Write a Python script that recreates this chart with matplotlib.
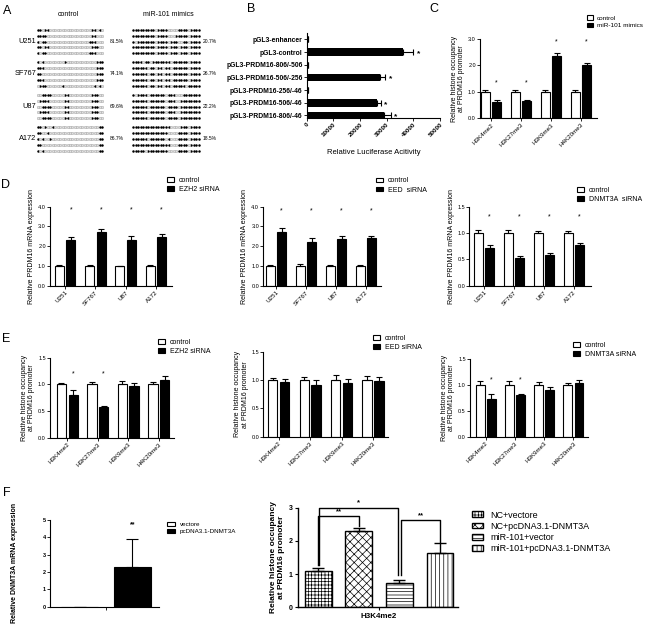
import matplotlib.pyplot as plt
import numpy as np

plt.rcParams["font.family"] = ["Liberation Sans", "DejaVu Sans"]
plt.rcParams["hatch.linewidth"] = 0.5

# ─────────────────────────────────────────────
# Data
# ─────────────────────────────────────────────

# A: bisulfite sequencing clones (1 = methylated CpG)
cell_lines = ["U251", "SF767", "U87", "A172"]
ctrl_pct = ["81.5%", "74.1%", "69.6%", "86.7%"]
mimic_pct = ["20.7%", "26.7%", "22.2%", "18.5%"]
ctrl_clones = [
    "110110000000000000000011010", "111100000000000000000011000",
    "101100000000000000000111000", "110110000000000000000011100",
    "101100000000000000000111000",
    "101000000001000000000000111", "111000000000000000000000111",
    "110000000000000000000000111", "111000000000000000000000111",
    "011100000010000000000001010",
    "001111000001100000000011100", "011110000001100000000011100",
    "001111000001100000000011100", "011110000001100000000011100",
    "001111000001100000000011100",
    "110100100000000000000000011", "110010000000000000000000011",
    "101001000000000000000000011", "110000000000000000000000011",
    "101000000000000000000000011",
]
mimic_clones = [
    "111111111011110000111101111", "111111111011110001111101111",
    "101111111011110111001101111", "111111111011110111011101111",
    "111111111011110111011101111",
    "111101101111111011111101111", "111111011011011011111101111",
    "111111011011011011111101111", "111111011011011011111101111",
    "111111011011011011111011111",
    "101111011111101110001111111", "111111011111101110011111111",
    "111111011111101111011111111", "111111011111101110011111111",
    "111111011111101111011111111",
    "111111111111111000011101111", "111111111111110000111101111",
    "111111011111101000111101111", "111111111111111000111101111",
    "111110111111110000111101111",
]

# B: luciferase reporter
constructs = ["pGL3-enhancer", "pGL3-control", "pGL3-PRDM16-806/-506",
              "pGL3-PRDM16-506/-256", "pGL3-PRDM16-256/-46",
              "pGL3-PRDM16-506/-46", "pGL3-PRDM16-806/-46"]
luc_mean = [500, 36000, 500, 27500, 500, 26500, 29000]
luc_err = [150, 4000, 150, 2000, 150, 1300, 2500]
luc_sig = [False, True, False, True, False, True, True]

# C: ChIP, miR-101 mimics
marks = ["H3K4me2", "H3K27me3", "H3K9me3", "H4K20me3"]
c_ctrl = [1.0, 1.0, 1.0, 1.0]
c_ctrl_err = [0.07, 0.05, 0.07, 0.07]
c_mimic = [0.6, 0.65, 2.37, 2.03]
c_mimic_err = [0.07, 0.03, 0.09, 0.05]
c_star = [1.33, 1.33, 2.89, 2.89]

# D: PRDM16 mRNA after siRNA
d_ctrl = [1.0, 1.0, 1.0, 1.0]
d_ezh2_ctrl_err = [0.03, 0.05, 0.02, 0.03]
d_ezh2 = [2.3, 2.73, 2.33, 2.47]
d_ezh2_err = [0.16, 0.13, 0.18, 0.14]
d_ezh2_star = [3.83, 3.83, 3.83, 3.83]
d_eed_ctrl_err = [0.03, 0.08, 0.03, 0.04]
d_eed = [2.73, 2.2, 2.35, 2.4]
d_eed_err = [0.2, 0.2, 0.17, 0.13]
d_eed_star = [3.78, 3.78, 3.78, 3.78]
d_dnmt_ctrl_err = [0.06, 0.05, 0.04, 0.04]
d_dnmt = [0.71, 0.52, 0.59, 0.78]
d_dnmt_err = [0.06, 0.05, 0.04, 0.03]
d_dnmt_star = [1.3, 1.3, 1.3, 1.3]

# E: ChIP after siRNA
e_ctrl = [1.0, 1.0, 1.0, 1.0]
e_ezh2_ctrl_err = [0.02, 0.04, 0.07, 0.05]
e_ezh2 = [0.8, 0.57, 0.97, 1.08]
e_ezh2_err = [0.09, 0.02, 0.06, 0.08]
e_ezh2_star = [1.19, 1.19, None, None]
e_eed_ctrl_err = [0.03, 0.05, 0.08, 0.07]
e_eed = [0.96, 0.91, 0.94, 0.99]
e_eed_err = [0.05, 0.09, 0.08, 0.06]
e_dnmt_ctrl_err = [0.07, 0.07, 0.05, 0.03]
e_dnmt = [0.72, 0.8, 0.9, 1.03]
e_dnmt_err = [0.11, 0.03, 0.06, 0.06]
e_dnmt_star = [1.1, 1.1, None, None]

# F: DNMT3A rescue
f1_groups = ["vectore", "pcDNA3.1-DNMT3A"]
f1_mean = [0.0, 2.28]
f1_err = [0.0, 1.6]
f2_groups = ["NC+vectore", "NC+pcDNA3.1-DNMT3A", "miR-101+vector",
             "miR-101+pcDNA3.1-DNMT3A"]
f2_mean = [1.1, 2.3, 0.72, 1.63]
f2_err = [0.08, 0.08, 0.1, 0.3]
f2_hatch = ["+++++", "xxxx", "-----", "||||"]

# ─────────────────────────────────────────────
# Layout helpers (pixel coordinates)
# ─────────────────────────────────────────────

W, H = 647, 630
fig = plt.figure(figsize=(W / 100, H / 100), dpi=100)


def px_axes(left, top, right, bottom):
    return fig.add_axes([left / W, 1 - bottom / H, (right - left) / W, (bottom - top) / H])


def fig_text(x, y, s, **kw):
    fig.text(x / W, 1 - y / H, s, **kw)


def prism(ax, ymax, yticks, fmt, ylabel, labelpad=2, ylfs=5):
    ax.spines[["top", "right"]].set_visible(False)
    ax.spines[["left", "bottom"]].set_linewidth(0.8)
    ax.set_ylim(0, ymax)
    ax.set_yticks(yticks)
    ax.set_yticklabels([fmt.format(t) for t in yticks], fontsize=4)
    ax.tick_params(length=2, width=0.6, pad=1)
    ax.set_ylabel(ylabel, fontsize=ylfs, labelpad=labelpad, linespacing=1.1)


def paired(ax, ctrl, ctrl_err, trt, trt_err, labels, xlim, off=0.19, w=0.3):
    x = np.arange(len(ctrl))
    ekw = dict(lw=0.8, capsize=2, capthick=0.8, ecolor="black")
    zeros = np.zeros(len(ctrl))
    b0 = ax.bar(x - off, ctrl, w, color="white", edgecolor="black", lw=0.8,
                yerr=[zeros, ctrl_err], error_kw=ekw)
    b1 = ax.bar(x + off, trt, w, color="black", edgecolor="black", lw=0.8,
                yerr=[zeros, trt_err], error_kw=ekw)
    ax.set_xlim(*xlim)
    ax.set_xticks(x)
    ax.set_xticklabels(labels, rotation=45, ha="right", rotation_mode="anchor", fontsize=4.5)
    return b0, b1


def stars(ax, heights, off=0.19):
    for i, h in enumerate(heights):
        if h is not None:
            ax.text(i + off, h, "*", ha="center", va="center", fontsize=5)


def legend_at(ax, handles, labels, x, y, fs=5, hl=1.0, hh=0.6, sp=0.3, pad=0.7):
    ax.legend(handles, labels, loc="upper left", bbox_to_anchor=(x / W, 1 - y / H),
              bbox_transform=fig.transFigure, frameon=False, fontsize=fs,
              handlelength=hl, handleheight=hh, labelspacing=sp, handletextpad=pad,
              borderpad=0, borderaxespad=0)


# ─────────────────────────────────────────────
# A — methylation clones
# ─────────────────────────────────────────────

BLOCK = 5.57


def draw_clones(ax, clones):
    for i, row in enumerate(clones):
        block, r = divmod(i, 5)
        bits = np.array([c == "1" for c in row])
        cols = np.arange(len(row))
        y = np.full(len(row), block * BLOCK + r)
        ax.scatter(cols[bits], y[bits], s=3.2, c="black", lw=0)
        ax.scatter(cols[~bits], y[~bits], s=3.2, facecolor="#e2e2e2",
                   edgecolor="#8a8a8a", lw=0.25)
    ax.set_xlim(-0.5, len(clones[0]) - 0.5)
    ax.set_ylim(3 * BLOCK + 4.5, -0.5)
    ax.axis("off")


draw_clones(px_axes(36.8, 27.1, 103.2, 153.5), ctrl_clones)
draw_clones(px_axes(131.7, 27.1, 200.3, 153.5), mimic_clones)

fig_text(68.8, 14, "control", ha="center", va="center", fontsize=5)
fig_text(168.3, 14, "miR-101 mimics", ha="center", va="center", fontsize=5)
for k, (name, pc, pm) in enumerate(zip(cell_lines, ctrl_pct, mimic_pct)):
    yc = 41.5 + k * 32.3
    fig_text(36, yc, name, ha="right", va="center", fontsize=5.3)
    fig_text(109.5, yc, pc, ha="left", va="center", fontsize=3.6)
    fig_text(202.5, yc, pm, ha="left", va="center", fontsize=3.6)

# ─────────────────────────────────────────────
# B — luciferase
# ─────────────────────────────────────────────

axB = px_axes(306.7, 33, 440, 118)
yB = np.arange(len(constructs))
axB.barh(yB, luc_mean, 0.6, color="black",
         xerr=[np.zeros(len(yB)), luc_err],
         error_kw=dict(lw=0.8, capsize=2, capthick=0.8, ecolor="black"))
for i, (m, e, s) in enumerate(zip(luc_mean, luc_err, luc_sig)):
    if s:
        axB.text(m + e + 1300, i + 0.12, "*", ha="left", va="center",
                 fontsize=6, fontweight="bold")
axB.set_xlim(0, 50000)
axB.set_ylim(6.2, -0.5)
axB.set_yticks(yB)
axB.set_yticklabels(constructs, fontsize=4.9, fontweight="bold")
axB.set_xticks(np.arange(0, 50001, 10000))
axB.set_xticklabels([str(v) for v in range(0, 50001, 10000)], rotation=45,
                    ha="right", rotation_mode="anchor", fontsize=4.5, fontweight="bold")
axB.spines[["top", "right"]].set_visible(False)
axB.spines[["left", "bottom"]].set_linewidth(0.8)
axB.tick_params(length=2, width=0.6, pad=1)
axB.set_xlabel("Relative Luciferase Acitivity", fontsize=5.5, labelpad=8)

# ─────────────────────────────────────────────
# C — histone occupancy, miR-101 mimics
# ─────────────────────────────────────────────

HIST_LABEL = "Relative histone occupancy\nat PRDM16 promoter"

axC = px_axes(480, 39, 597, 118)
cb = paired(axC, c_ctrl, c_ctrl_err, c_mimic, c_mimic_err, marks, (-0.36, 3.54))
prism(axC, 3.0, [0, 1, 2, 3], "{:.1f}", HIST_LABEL)
stars(axC, c_star)
legend_at(axC, cb, ["control", "miR-101 mimics"], 587, 15.5, fs=4.6, pad=0.6)

# ─────────────────────────────────────────────
# D — PRDM16 mRNA
# ─────────────────────────────────────────────

MRNA_LABEL = "Relative PRDM16 mRNA expression"

axD1 = px_axes(50, 206.7, 171.7, 285.7)
db = paired(axD1, d_ctrl, d_ezh2_ctrl_err, d_ezh2, d_ezh2_err, cell_lines, (-0.495, 3.52))
prism(axD1, 4.0, [0, 1, 2, 3, 4], "{:.1f}", MRNA_LABEL)
stars(axD1, d_ezh2_star)
legend_at(axD1, db, ["control", "EZH2 siRNA"], 167, 177)

axD2 = px_axes(263.3, 206.7, 380.7, 285.7)
db = paired(axD2, d_ctrl, d_eed_ctrl_err, d_eed, d_eed_err, cell_lines, (-0.425, 3.5))
prism(axD2, 4.0, [0, 1, 2, 3, 4], "{:.1f}", MRNA_LABEL)
stars(axD2, d_eed_star)
legend_at(axD2, db, ["control", "EED  siRNA"], 375.7, 177.5)

axD3 = px_axes(469.3, 206.7, 591, 285.7)
db = paired(axD3, d_ctrl, d_dnmt_ctrl_err, d_dnmt, d_dnmt_err, cell_lines, (-0.49, 3.57))
prism(axD3, 1.5, [0, 0.5, 1.0, 1.5], "{:.1f}", MRNA_LABEL)
stars(axD3, d_dnmt_star)
legend_at(axD3, db, ["control", "DNMT3A  siRNA"], 576.7, 187)

# ─────────────────────────────────────────────
# E — histone occupancy after siRNA
# ─────────────────────────────────────────────

axE1 = px_axes(50, 357.7, 174, 437.7)
eb = paired(axE1, e_ctrl, e_ezh2_ctrl_err, e_ezh2, e_ezh2_err, marks, (-0.567, 3.5))
prism(axE1, 1.5, [0, 0.5, 1.0, 1.5], "{:.1f}", HIST_LABEL)
stars(axE1, e_ezh2_star)
legend_at(axE1, eb, ["control", "EZH2 siRNA"], 158, 339)

axE2 = px_axes(263.3, 351.7, 388, 436.7)
eb = paired(axE2, e_ctrl, e_eed_ctrl_err, e_eed, e_eed_err, marks, (-0.49, 3.47))
prism(axE2, 1.5, [0, 0.5, 1.0, 1.5], "{:.1f}", HIST_LABEL)
legend_at(axE2, eb, ["control", "EED siRNA"], 373, 335)

axE3 = px_axes(470, 359, 588, 436.7)
eb = paired(axE3, e_ctrl, e_dnmt_ctrl_err, e_dnmt, e_dnmt_err, marks, (-0.54, 3.5))
prism(axE3, 1.5, [0, 0.5, 1.0, 1.5], "{:.1f}", HIST_LABEL)
stars(axE3, e_dnmt_star)
legend_at(axE3, eb, ["control", "DNMT3A siRNA"], 573, 342)

# ─────────────────────────────────────────────
# F — DNMT3A overexpression
# ─────────────────────────────────────────────

axF1 = px_axes(50, 520, 159.3, 606.7)
fx = np.array([-0.5, 0.5])
fb = [axF1.bar(fx[i], f1_mean[i], 0.68, color=c, edgecolor="black", lw=0.8,
               yerr=[[0], [f1_err[i]]],
               error_kw=dict(lw=0.8, capsize=4, capthick=0.8, ecolor="black"))
      for i, c in enumerate(["white", "black"])]
axF1.text(0.5, 4.7, "**", ha="center", va="center", fontsize=5, fontweight="bold")
axF1.set_xlim(-1.057, 1.006)
axF1.set_xticks([0])
axF1.set_xticklabels([""])
axF1.spines[["top", "right"]].set_visible(False)
axF1.spines[["left", "bottom"]].set_linewidth(0.8)
axF1.set_ylim(0, 5)
axF1.set_yticks(range(6))
axF1.set_yticklabels([str(v) for v in range(6)], fontsize=4, fontweight="bold")
axF1.tick_params(length=2, width=0.6, pad=1)
axF1.set_ylabel("Relative DNMT3A mRNA expression", fontsize=5, fontweight="bold",
                labelpad=18)
legend_at(axF1, fb, f1_groups, 167, 522, fs=4.5, hl=1.3)

axF2 = px_axes(298.3, 507.7, 458.3, 607.3)
f2x = np.arange(len(f2_mean))
f2b = []
for i in f2x:
    f2b.append(axF2.bar(i, f2_mean[i], 0.66, color="white", edgecolor="black", lw=1,
                        hatch=f2_hatch[i], yerr=[[0], [f2_err[i]]],
                        error_kw=dict(lw=1, capsize=4, capthick=1, ecolor="black")))
axF2.set_xlim(-0.49, 3.45)
axF2.set_ylim(0, 3)
axF2.set_yticks([0, 1, 2, 3])
axF2.set_yticklabels(["0", "1", "2", "3"], fontsize=5, fontweight="bold")
axF2.set_xticks([1.5])
axF2.set_xticklabels(["H3K4me2"], fontsize=5.8, fontweight="bold")
axF2.spines[["top", "right"]].set_visible(False)
axF2.spines[["left", "bottom"]].set_linewidth(1)
axF2.tick_params(length=2.5, width=0.8, pad=1.5)
axF2.set_ylabel(HIST_LABEL, fontsize=6, fontweight="bold", labelpad=3, linespacing=1.1)


def bracket(ax, x0, x1, y, y0, y1, label):
    ax.plot([x0, x0, x1, x1], [y0, y, y, y1], color="black", lw=1, clip_on=False)
    ax.text((x0 + x1) / 2, y + 0.03, label, ha="center", va="bottom",
            fontsize=5.5, fontweight="bold", clip_on=False)


bracket(axF2, 0.02, 1.97, 3.0, 1.27, 0.97, "*")
bracket(axF2, 0.0, 1.0, 2.75, 1.27, 2.45, "**")
bracket(axF2, 2.05, 3.0, 2.63, 0.97, 1.98, "**")
legend_at(axF2, f2b, f2_groups, 471.7, 510.5, fs=6.5, hl=1.3, hh=0.6, sp=0.25, pad=0.75)

# ─────────────────────────────────────────────
# Panel letters
# ─────────────────────────────────────────────

for letter, x, y in [("A", 7.5, 11), ("B", 251, 8.5), ("C", 433.5, 8.5),
                     ("D", 5, 185), ("E", 6.5, 338.5), ("F", 6.5, 493.5)]:
    fig_text(x, y, letter, ha="center", va="center", fontsize=9)

fig.savefig("out.png", dpi=100)
